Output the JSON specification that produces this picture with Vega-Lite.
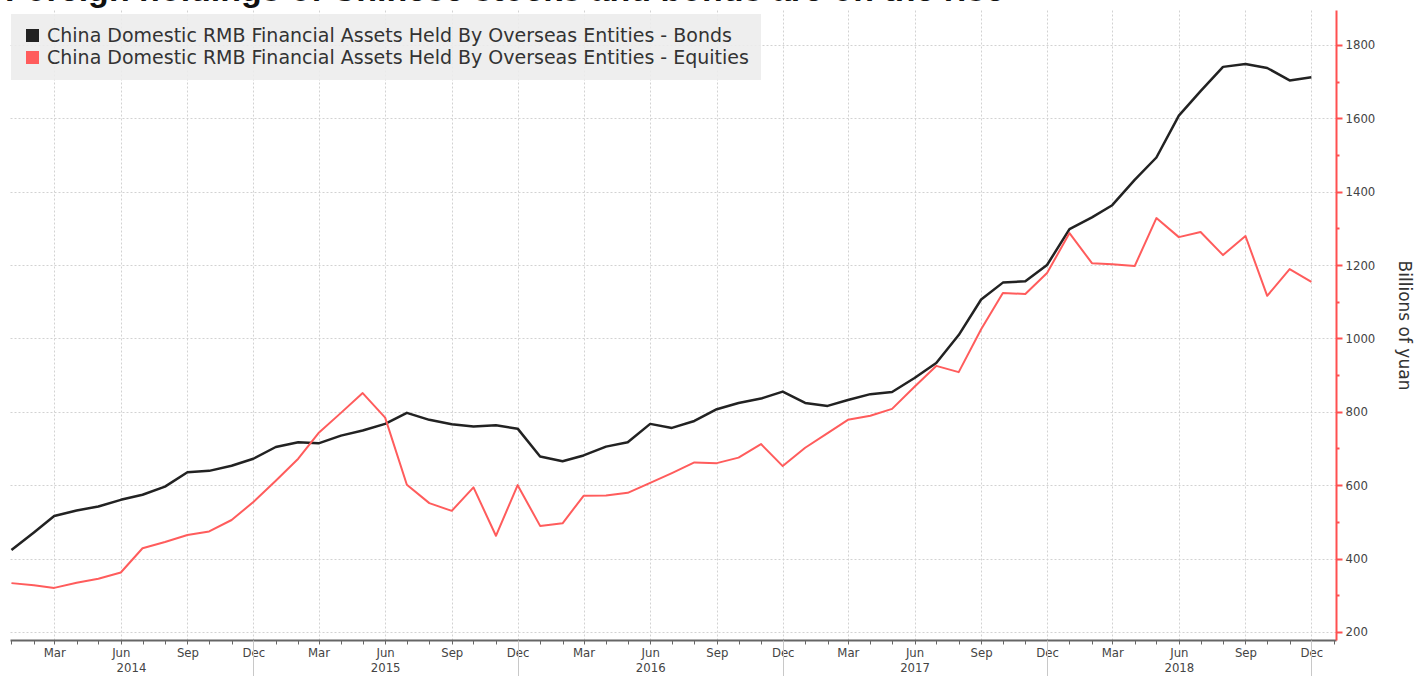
{
  "$schema": "https://vega.github.io/schema/vega-lite/v6.json",
  "width": 1326,
  "height": 630,
  "autosize": {"type": "none"},
  "padding": {"left": 10, "top": 10, "right": 79, "bottom": 36},
  "background": "white",
  "config": {"view": {"stroke": null}, "font": "DejaVu Sans Condensed"},
  "title": {"text": "Foreign holdings of Chinese stocks and bonds are on the rise", "anchor": "start", "frame": "group", "fontSize": 34, "font": "Liberation Sans", "fontWeight": "bold", "color": "#111111", "offset": 2, "dx": -5},
  "data": {"values": [
    {"date": "2014-01-01", "Bonds": 423, "Equities": 333},
    {"date": "2014-02-01", "Bonds": 471, "Equities": 327},
    {"date": "2014-03-01", "Bonds": 516, "Equities": 320},
    {"date": "2014-04-01", "Bonds": 531, "Equities": 334},
    {"date": "2014-05-01", "Bonds": 542, "Equities": 345},
    {"date": "2014-06-01", "Bonds": 560, "Equities": 362},
    {"date": "2014-07-01", "Bonds": 574, "Equities": 428},
    {"date": "2014-08-01", "Bonds": 596, "Equities": 445},
    {"date": "2014-09-01", "Bonds": 635, "Equities": 464},
    {"date": "2014-10-01", "Bonds": 639, "Equities": 474},
    {"date": "2014-11-01", "Bonds": 653, "Equities": 505},
    {"date": "2014-12-01", "Bonds": 672, "Equities": 554},
    {"date": "2015-01-01", "Bonds": 704, "Equities": 612},
    {"date": "2015-02-01", "Bonds": 717, "Equities": 672},
    {"date": "2015-03-01", "Bonds": 714, "Equities": 742},
    {"date": "2015-04-01", "Bonds": 735, "Equities": 797},
    {"date": "2015-05-01", "Bonds": 749, "Equities": 851},
    {"date": "2015-06-01", "Bonds": 767, "Equities": 784},
    {"date": "2015-07-01", "Bonds": 797, "Equities": 601},
    {"date": "2015-08-01", "Bonds": 778, "Equities": 551},
    {"date": "2015-09-01", "Bonds": 766, "Equities": 530},
    {"date": "2015-10-01", "Bonds": 760, "Equities": 594},
    {"date": "2015-11-01", "Bonds": 763, "Equities": 462},
    {"date": "2015-12-01", "Bonds": 754, "Equities": 600},
    {"date": "2016-01-01", "Bonds": 678, "Equities": 489},
    {"date": "2016-02-01", "Bonds": 665, "Equities": 496},
    {"date": "2016-03-01", "Bonds": 681, "Equities": 571},
    {"date": "2016-04-01", "Bonds": 705, "Equities": 572},
    {"date": "2016-05-01", "Bonds": 717, "Equities": 579},
    {"date": "2016-06-01", "Bonds": 767, "Equities": 606},
    {"date": "2016-07-01", "Bonds": 756, "Equities": 633},
    {"date": "2016-08-01", "Bonds": 775, "Equities": 662},
    {"date": "2016-09-01", "Bonds": 807, "Equities": 660},
    {"date": "2016-10-01", "Bonds": 824, "Equities": 675},
    {"date": "2016-11-01", "Bonds": 836, "Equities": 712},
    {"date": "2016-12-01", "Bonds": 855, "Equities": 652},
    {"date": "2017-01-01", "Bonds": 824, "Equities": 702},
    {"date": "2017-02-01", "Bonds": 816, "Equities": 742},
    {"date": "2017-03-01", "Bonds": 832, "Equities": 778},
    {"date": "2017-04-01", "Bonds": 848, "Equities": 789},
    {"date": "2017-05-01", "Bonds": 854, "Equities": 808},
    {"date": "2017-06-01", "Bonds": 892, "Equities": 868},
    {"date": "2017-07-01", "Bonds": 933, "Equities": 925},
    {"date": "2017-08-01", "Bonds": 1009, "Equities": 908},
    {"date": "2017-09-01", "Bonds": 1106, "Equities": 1025},
    {"date": "2017-10-01", "Bonds": 1152, "Equities": 1124},
    {"date": "2017-11-01", "Bonds": 1156, "Equities": 1121},
    {"date": "2017-12-01", "Bonds": 1200, "Equities": 1178},
    {"date": "2018-01-01", "Bonds": 1298, "Equities": 1287},
    {"date": "2018-02-01", "Bonds": 1330, "Equities": 1205},
    {"date": "2018-03-01", "Bonds": 1363, "Equities": 1202},
    {"date": "2018-04-01", "Bonds": 1432, "Equities": 1197},
    {"date": "2018-05-01", "Bonds": 1493, "Equities": 1328},
    {"date": "2018-06-01", "Bonds": 1607, "Equities": 1276},
    {"date": "2018-07-01", "Bonds": 1674, "Equities": 1290},
    {"date": "2018-08-01", "Bonds": 1740, "Equities": 1227},
    {"date": "2018-09-01", "Bonds": 1748, "Equities": 1279},
    {"date": "2018-10-01", "Bonds": 1737, "Equities": 1116},
    {"date": "2018-11-01", "Bonds": 1703, "Equities": 1189},
    {"date": "2018-12-01", "Bonds": 1712, "Equities": 1154}
  ]},
  "transform": [{"fold": ["Bonds", "Equities"], "as": ["series", "value"]}],
  "layer": [
    {
      "mark": {"type": "line", "strokeJoin": "round"},
      "encoding": {
        "x": {
          "field": "date", "type": "temporal",
          "scale": {"type": "utc", "domain": [{"year": 2013, "month": 12, "date": 30, "utc": true}, {"year": 2019, "month": 1, "date": 4, "utc": true}]},
          "axis": {
            "orient": "bottom",
            "title": null,
            "tickCount": {"interval": "month", "step": 1},
            "labelExpr": "utcmonth(datum.value) % 3 == 2 ? utcFormat(datum.value, '%b') : ''",
            "grid": true,
            "gridColor": "#d2d2d2",
            "gridDash": [2, 2],
            "gridOpacity": {"condition": {"test": "utcmonth(datum.value) % 3 == 2", "value": 1}, "value": 0},
            "domainColor": "#666666",
            "domainWidth": 2,
            "tickColor": "#666666",
            "tickSize": 4,
            "tickWidth": 1,
            "labelPadding": 2,
            "labelFontSize": 13,
            "labelColor": "#444444",
            "labelFont": "DejaVu Sans Condensed",
            "labelFlush": false,
            "labelOverlap": false
          }
        },
        "y": {
          "field": "value", "type": "quantitative",
          "scale": {"domain": [178, 1895], "nice": false, "zero": false},
          "axis": {
            "orient": "right",
            "values": [200, 300, 400, 500, 600, 700, 800, 900, 1000, 1100, 1200, 1300, 1400, 1500, 1600, 1700, 1800],
            "format": "d",
            "labelExpr": "datum.value % 200 == 0 ? datum.label : ''",
            "grid": true,
            "gridColor": "#d2d2d2",
            "gridDash": [2, 2],
            "gridOpacity": {"condition": {"test": "datum.value % 200 == 0", "value": 1}, "value": 0},
            "domainColor": "#ff5050",
            "domainWidth": 2,
            "tickColor": "#ff5050",
            "tickWidth": 2,
            "tickSize": {"condition": {"test": "datum.value % 200 == 0", "value": 6}, "value": 3},
            "labelPadding": 3,
            "labelFontSize": 13,
            "labelColor": "#444444",
            "labelFont": "DejaVu Sans Condensed",
            "title": "Billions of yuan",
            "titleFont": "DejaVu Sans",
            "titleFontSize": 17,
            "titleFontWeight": "normal",
            "titleColor": "#333333",
            "titlePadding": 20
          }
        },
        "color": {
          "field": "series", "type": "nominal",
          "scale": {"domain": ["Bonds", "Equities"], "range": ["#222222", "#ff5c5c"]},
          "legend": {
            "orient": "none",
            "legendX": 1,
            "legendY": 4,
            "title": null,
            "fillColor": "rgba(236,236,236,0.88)",
            "padding": 12,
            "symbolType": "square",
            "symbolSize": 169,
            "symbolStrokeWidth": 0,
            "labelFont": "DejaVu Sans",
            "labelFontSize": 19,
            "labelColor": "#333333",
            "labelOffset": 5,
            "rowPadding": 2,
            "labelLimit": 1000,
            "labelExpr": "'China Domestic RMB Financial Assets Held By Overseas Entities - ' + datum.label",
            "encode": {"symbols": {"update": {"fill": {"scale": "color", "field": "value"}, "stroke": {"value": "transparent"}, "opacity": {"value": 1}}}}
          }
        },
        "strokeWidth": {"condition": {"test": "datum.series == 'Bonds'", "value": 2.5}, "value": 2}
      }
    },
    {
      "mark": {"type": "rule", "opacity": 0},
      "encoding": {
        "x": {
          "field": "date", "type": "temporal",
          "scale": {"type": "utc"},
          "axis": {
            "orient": "bottom",
            "title": null,
            "values": [
              {"year": 2014, "month": 6, "date": 15, "utc": true},
              {"year": 2015, "month": 6, "date": 1, "utc": true},
              {"year": 2016, "month": 6, "date": 1, "utc": true},
              {"year": 2017, "month": 6, "date": 1, "utc": true},
              {"year": 2018, "month": 6, "date": 1, "utc": true}
            ],
            "labelExpr": "utcFormat(datum.value, '%Y')",
            "domain": false,
            "ticks": false,
            "grid": false,
            "labelPadding": 21,
            "labelFontSize": 13,
            "labelColor": "#444444",
            "labelFont": "DejaVu Sans Condensed",
            "labelFlush": false,
            "labelOverlap": false
          }
        }
      }
    },
    {
      "mark": {"type": "rule", "opacity": 0},
      "encoding": {
        "x": {
          "field": "date", "type": "temporal",
          "scale": {"type": "utc"},
          "axis": {
            "orient": "bottom",
            "title": null,
            "values": [
              {"year": 2014, "month": 12, "date": 1, "utc": true},
              {"year": 2015, "month": 12, "date": 1, "utc": true},
              {"year": 2016, "month": 12, "date": 1, "utc": true},
              {"year": 2017, "month": 12, "date": 1, "utc": true},
              {"year": 2018, "month": 12, "date": 1, "utc": true}
            ],
            "labels": false,
            "domain": false,
            "ticks": true,
            "tickSize": 38,
            "tickColor": "#c8c8c8",
            "tickWidth": 1,
            "grid": false
          }
        }
      }
    }
  ],
  "resolve": {"axis": {"x": "independent"}}
}
